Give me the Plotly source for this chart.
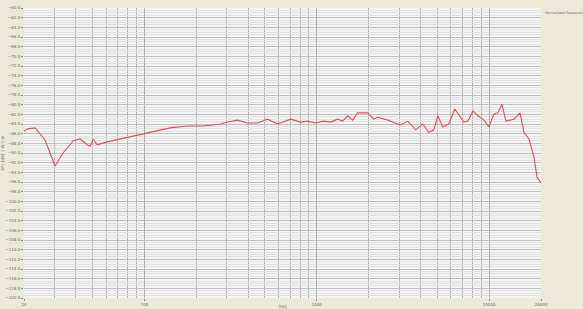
import plotly.graph_objects as go

# Frequency (Hz) and normalized SPL (dB)
freq = [20, 21.1, 23.2, 26.5, 30.3, 33.7, 38.5, 42.3, 46.5, 48.4, 50.4, 53.1, 60.8, 72.3,
        90.8, 112.5, 141, 177, 220, 276, 303, 346, 396, 453, 518, 592, 705, 805,
        884, 984, 1094, 1202, 1321, 1413, 1510, 1615, 1727, 1974, 2138, 2256, 2578,
        2948, 3069, 3371, 3750, 4121, 4467, 4775, 5035, 5383, 5834, 6324, 7131, 7534,
        8054, 8610, 9333, 9977, 10666, 11246, 11858, 12530, 13932, 15101, 15922,
        17021, 18197, 18967, 20000]
spl = [-85.4, -85.0, -84.8, -87.3, -92.7, -90.0, -87.5, -87.1, -88.3, -88.6, -87.1, -88.3,
       -87.7, -87.1, -86.3, -85.7, -84.8, -84.4, -84.4, -84.0, -83.6, -83.2, -83.8, -83.8,
       -83.0, -84.0, -83.0, -83.6, -83.4, -83.8, -83.4, -83.6, -83.0, -83.4, -82.3, -83.2,
       -81.7, -81.7, -83.0, -82.6, -83.2, -84.0, -84.2, -83.4, -85.2, -84.0, -85.7, -85.2,
       -82.3, -84.6, -84.0, -80.9, -83.6, -83.4, -81.3, -82.3, -83.2, -84.6, -81.9, -81.7,
       -79.9, -83.4, -83.0, -81.7, -85.7, -87.1, -90.8, -95.0, -96.2]

x_tickvals = [20, 100, 1000, 10000, 20000]
x_ticktext = ["20", "100", "1000", "10000", "20000"]
x_gridvals = [30, 40, 50, 60, 70, 80, 90, 100, 200, 300, 400, 500, 600, 700, 800, 900,
              1000, 2000, 3000, 4000, 5000, 6000, 7000, 8000, 9000, 10000]
y_min, y_max, y_step = -120, -60, 2

fig = go.Figure()
fig.add_trace(go.Scatter(x=freq, y=spl, mode="lines",
                         line=dict(color="#E0505A", width=1.1),
                         showlegend=False, hoverinfo="skip"))

fig.update_layout(
    width=583, height=309,
    margin=dict(l=24, r=42, t=8, b=11, autoexpand=False),
    paper_bgcolor="#ECE9D8",
    plot_bgcolor="#F4F4F4",
    font=dict(family="DejaVu Sans", size=4, color="#666666"),
    annotations=[
        dict(text="Normalized Response", xref="paper", yref="paper", x=1.004, y=0.998,
             xanchor="left", yanchor="top", showarrow=False,
             font=dict(size=3.5, color="#777777")),
    ],
)
fig.update_xaxes(
    type="log", range=[1.30103, 4.30103], automargin=False,
    tickvals=x_tickvals, ticktext=x_ticktext,
    showgrid=True, gridcolor="#B0B0B0", gridwidth=1,
    ticks="outside", ticklen=2, tickcolor="#888888",
    minor=dict(tickvals=x_gridvals, showgrid=True, gridcolor="#B0B0B0", ticks=""),
    title=dict(text="[Hz]", font=dict(size=4, color="#666666"), standoff=0),
    zeroline=False, showline=False, tickfont=dict(size=4),
)
fig.update_yaxes(
    range=[y_min, y_max], dtick=y_step, tick0=y_min, tickformat=".1f", automargin=False,
    showgrid=True, gridcolor="#C0C0C0", gridwidth=1,
    ticks="outside", ticklen=2, tickcolor="#888888",
    minor=dict(dtick=0.5, showgrid=True, gridcolor="#E2E2E2", ticks=""),
    title=dict(text="SPL [dB] 1 W/1 m", font=dict(size=4, color="#666666"), standoff=0),
    zeroline=False, showline=False, tickfont=dict(size=4),
)

fig.write_html("out.html", config={"displayModeBar": False},
               post_script="document.body.style.margin='0';")
